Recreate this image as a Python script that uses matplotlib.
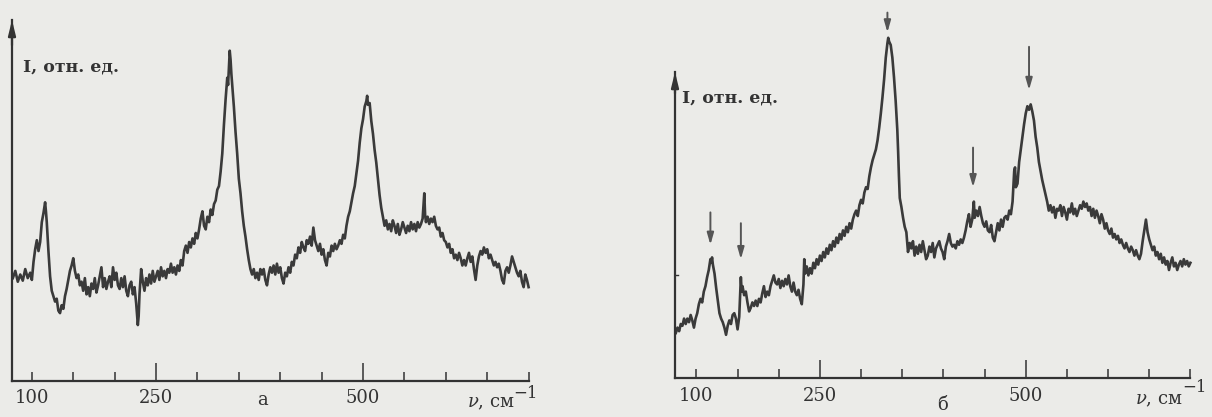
import matplotlib
matplotlib.use('Agg')
import matplotlib.pyplot as plt

# ---------------- data ----------------
nu_a = [77, 80, 83, 86, 89, 92, 95, 98, 100, 102, 104, 106, 108, 110, 112, 114, 116, 117, 118, 120,
        122, 124, 126, 128, 130, 132, 134, 136, 138, 140, 142, 144, 146, 148, 150, 152, 154, 156, 158, 160,
        162, 164, 166, 168, 170, 172, 174, 176, 178, 180, 182, 184, 186, 188, 190, 192, 194, 196, 198, 200,
        202, 204, 206, 208, 210, 212, 214, 216, 218, 220, 222, 224, 226, 228, 229, 230, 232, 234, 236, 238,
        240, 242, 244, 246, 248, 250, 252, 254, 256, 258, 260, 262, 264, 266, 268, 270, 272, 274, 276, 278,
        280, 282, 284, 286, 288, 290, 292, 294, 296, 298, 300, 302, 304, 306, 308, 310, 312, 314, 316, 318,
        320, 322, 324, 326, 328, 330, 332, 334, 336, 337, 338, 339, 340, 341, 342, 343, 344, 346, 348, 350,
        352, 354, 356, 358, 360, 362, 364, 366, 368, 370, 372, 374, 376, 378, 380, 382, 384, 386, 388, 390,
        392, 394, 396, 398, 400, 402, 404, 406, 408, 410, 412, 414, 416, 418, 420, 422, 424, 426, 428, 430,
        432, 434, 436, 438, 440, 442, 444, 446, 448, 450, 452, 454, 456, 458, 460, 462, 464, 466, 468, 470,
        472, 474, 476, 478, 480, 482, 484, 486, 488, 490, 492, 494, 496, 498, 500, 502, 504, 505, 506, 508,
        510, 512, 514, 516, 518, 520, 522, 524, 526, 528, 530, 532, 534, 536, 538, 540, 542, 544, 546, 548,
        550, 552, 554, 556, 558, 560, 562, 564, 566, 568, 570, 572, 574, 575, 576, 578, 580, 582, 584, 586,
        588, 590, 592, 594, 596, 598, 600, 602, 604, 606, 608, 610, 612, 614, 616, 618, 620, 622, 624, 626,
        628, 630, 632, 634, 636, 638, 640, 642, 644, 646, 648, 650, 652, 654, 656, 658, 660, 662, 664, 666,
        668, 670, 672, 674, 676, 678, 680, 682, 684, 686, 688, 690, 692, 694, 696, 698, 700]
I_a = [28.5, 30.5, 27.5, 29.5, 27.8, 31.0, 28.5, 30.0, 28.0, 33.0, 36.5, 39.0, 36.0, 38.5, 44.0, 46.5, 49.5, 47.0, 44.0, 36.0,
       29.0, 25.0, 23.5, 22.0, 22.8, 19.5, 18.8, 21.0, 20.0, 23.5, 25.5, 28.0, 30.5, 32.0, 34.0, 30.5, 28.5, 29.5, 26.5, 27.5,
       25.0, 28.5, 24.0, 26.0, 23.5, 27.0, 25.5, 28.5, 24.5, 26.5, 29.0, 31.5, 26.0, 28.5, 25.5, 27.5, 29.0, 26.0, 31.5, 28.0,
       30.0, 26.5, 25.5, 28.5, 26.0, 29.0, 25.0, 23.5, 26.5, 27.5, 24.0, 26.0, 21.5, 15.5, 18.0, 24.0, 31.0, 27.5, 25.0, 28.5,
       26.5, 29.5, 27.0, 30.5, 27.5, 29.0, 30.5, 28.0, 31.5, 29.0, 30.5, 28.5, 31.0, 30.0, 32.5, 30.0, 31.5, 29.5, 32.0, 30.5,
       33.5, 32.0, 36.0, 37.5, 35.5, 38.5, 37.0, 39.5, 38.0, 41.0, 39.5, 42.0, 45.0, 47.0, 43.0, 42.0, 45.5, 44.0, 47.5, 46.0,
       49.0, 50.0, 53.0, 54.0, 58.0, 63.0, 71.0, 78.0, 84.0, 82.0, 87.0, 91.5, 89.0, 85.0, 82.0, 79.0, 76.0, 69.0, 63.0, 56.0,
       52.0, 47.0, 43.0, 40.0, 36.5, 33.5, 31.0, 29.5, 31.0, 28.5, 30.0, 28.0, 31.0, 29.5, 31.0, 28.0, 26.5, 29.5, 31.5, 30.0,
       32.0, 29.5, 32.5, 30.0, 31.5, 28.5, 27.0, 30.0, 29.0, 31.5, 30.0, 33.0, 32.0, 35.0, 34.0, 37.0, 35.5, 38.5, 37.0, 36.0,
       39.0, 38.0, 40.0, 37.5, 42.5, 39.0, 37.5, 36.0, 38.0, 35.0, 36.5, 33.5, 32.0, 35.5, 34.5, 37.5, 36.0, 38.0, 36.5, 37.5,
       39.0, 38.0, 40.5, 39.5, 43.0, 45.5, 47.0, 49.5, 52.0, 54.0, 57.5, 61.0, 66.0, 70.0, 72.5, 76.0, 77.5, 79.0, 76.5, 77.0,
       72.0, 68.5, 64.0, 60.5, 56.0, 51.5, 48.0, 45.5, 43.0, 44.5, 42.0, 43.5, 41.5, 44.5, 43.0, 41.0, 43.5, 40.5, 42.0, 44.0,
       42.5, 41.0, 43.0, 41.5, 44.0, 42.0, 43.5, 41.5, 44.0, 42.5, 43.5, 45.0, 52.0, 46.0, 44.0, 45.5, 43.5, 45.0, 44.0, 45.5,
       43.0, 42.0, 42.5, 40.0, 41.0, 39.0, 38.5, 37.0, 38.0, 35.5, 36.5, 34.0, 35.0, 33.5, 35.5, 34.0, 32.0, 33.5, 32.0, 34.0,
       35.5, 33.0, 34.5, 31.0, 28.0, 32.0, 34.5, 36.0, 35.0, 37.0, 35.5, 36.5, 34.0, 35.0, 33.5, 32.0, 33.0, 31.5, 32.5, 30.5,
       28.0, 27.0, 30.5, 31.5, 30.0, 32.0, 34.5, 33.0, 31.5, 30.0, 29.0, 30.5, 27.5, 26.0, 29.5, 28.0, 26.0]

nu_b = [75, 77, 79, 81, 83, 85, 87, 89, 91, 93, 95, 97, 99, 101, 103, 105, 107, 109, 111, 113,
        115, 117, 118, 119, 120, 122, 124, 126, 128, 130, 132, 134, 136, 138, 140, 142, 144, 146, 148, 150,
        152, 154, 155, 156, 158, 160, 162, 164, 166, 168, 170, 172, 174, 176, 178, 180, 182, 184, 186, 188,
        190, 192, 194, 196, 198, 200, 202, 204, 206, 208, 210, 212, 214, 216, 218, 220, 222, 224, 226, 228,
        230, 231, 232, 234, 236, 238, 240, 242, 244, 246, 248, 250, 252, 254, 256, 258, 260, 262, 264, 266,
        268, 270, 272, 274, 276, 278, 280, 282, 284, 286, 288, 290, 292, 294, 296, 298, 300, 302, 304, 306,
        308, 310, 312, 314, 316, 318, 320, 322, 324, 326, 328, 330, 332, 333, 334, 336, 338, 340, 342, 344,
        345, 346, 347, 349, 351, 353, 355, 357, 359, 361, 363, 365, 367, 369, 371, 373, 375, 377, 379, 381,
        383, 385, 387, 389, 391, 393, 395, 397, 399, 401, 403, 405, 407, 409, 411, 413, 415, 417, 419, 421,
        423, 425, 427, 429, 431, 433, 435, 437, 438, 440, 442, 444, 446, 448, 450, 452, 454, 456, 458, 460,
        462, 464, 466, 468, 470, 472, 474, 476, 478, 480, 482, 484, 486, 487, 488, 490, 492, 494, 496, 498,
        500, 502, 504, 506, 508, 510, 512, 514, 516, 518, 520, 522, 524, 526, 528, 530, 532, 534, 536, 538,
        540, 542, 544, 546, 548, 550, 552, 554, 556, 558, 560, 562, 564, 566, 568, 570, 572, 574, 576, 578,
        580, 582, 584, 586, 588, 590, 592, 594, 596, 598, 600, 602, 604, 606, 608, 610, 612, 614, 616, 618,
        620, 622, 624, 626, 628, 630, 632, 634, 636, 638, 640, 642, 644, 646, 648, 650, 652, 654, 656, 658,
        660, 662, 664, 666, 668, 670, 672, 674, 676, 678, 680, 682, 684, 686, 688, 690, 692, 694, 696, 698,
        700]
I_b = [12.5, 14.0, 13.0, 15.0, 14.5, 16.5, 15.0, 16.5, 15.5, 17.5, 16.0, 14.0, 16.5, 18.0, 20.5, 22.0, 21.0, 24.0, 25.5, 28.0,
       30.0, 33.0, 32.0, 33.5, 31.5, 29.0, 25.0, 21.5, 18.0, 16.5, 15.5, 14.0, 12.0, 14.5, 16.0, 15.0, 17.5, 18.0, 16.5, 13.5,
       17.0, 28.0, 24.0, 25.5, 23.0, 24.0, 21.0, 18.5, 19.5, 21.0, 20.0, 21.5, 20.0, 22.0, 21.0, 23.5, 25.5, 22.5, 24.0, 23.0,
       25.5, 27.0, 28.5, 26.5, 26.0, 27.5, 25.0, 27.0, 25.5, 27.5, 26.0, 28.5, 25.5, 24.0, 26.5, 24.0, 23.0, 24.5, 22.0, 20.5,
       26.0, 33.0, 29.0, 31.0, 28.5, 30.5, 29.0, 32.0, 30.5, 33.0, 31.5, 34.0, 32.5, 35.0, 33.5, 36.0, 34.5, 37.0, 35.5, 38.0,
       36.5, 39.0, 37.5, 40.0, 38.5, 41.0, 39.5, 42.0, 40.5, 43.0, 41.5, 44.0, 45.5, 46.5, 45.0, 48.0, 49.5, 48.5, 51.5, 53.0,
       52.5, 56.0, 58.5, 60.5, 62.0, 63.5, 66.0, 69.5, 73.5, 78.0, 83.0, 89.0, 93.0, 94.5, 93.5, 92.5, 89.0, 83.5, 77.0, 69.0,
       63.0, 56.0, 50.0, 47.5, 44.5, 42.0, 40.5, 35.0, 37.5, 36.0, 38.0, 34.0, 36.5, 34.5, 37.0, 35.0, 38.0, 35.5, 33.0, 34.0,
       36.5, 35.0, 37.5, 33.5, 36.0, 37.0, 38.0, 36.0, 35.0, 33.0, 36.5, 38.0, 40.0, 37.5, 36.5, 37.0, 36.0, 38.0, 37.0, 38.5,
       37.5, 39.0, 41.0, 43.5, 45.5, 42.0, 44.0, 49.0, 44.5, 46.5, 45.0, 47.5, 45.0, 43.0, 42.0, 43.5, 41.0, 40.5, 42.5, 39.0,
       38.0, 40.5, 43.0, 41.0, 44.0, 42.0, 44.5, 45.0, 44.0, 46.5, 45.5, 49.0, 57.5, 58.5, 53.0, 54.0, 60.0, 63.5, 67.0, 70.5,
       73.5, 75.5, 74.5, 76.0, 74.0, 71.5, 67.0, 64.0, 60.0, 57.5, 55.0, 53.0, 51.0, 49.0, 46.5, 48.0, 46.0, 47.5, 44.5, 47.0,
       46.5, 48.0, 45.0, 47.5, 46.0, 44.0, 47.0, 46.0, 48.5, 45.5, 47.0, 45.0, 46.5, 48.0, 47.0, 49.0, 47.5, 48.5, 46.5, 47.5,
       45.0, 47.0, 44.5, 46.5, 45.0, 43.0, 45.5, 44.0, 41.5, 43.0, 41.0, 40.0, 41.5, 39.0, 40.0, 38.5, 39.5, 37.5, 38.5, 37.0,
       36.0, 37.5, 36.0, 35.0, 36.5, 35.5, 34.0, 35.5, 34.0, 33.0, 34.5, 38.0, 41.0, 44.0, 40.5, 38.5, 37.0, 35.5, 36.5, 34.0,
       35.0, 33.0, 34.5, 32.0, 33.5, 31.5, 32.5, 30.0, 32.0, 33.5, 31.0, 32.0, 30.0, 31.5, 32.5, 31.0, 33.0, 31.5, 32.5, 31.0,
       32.0]

tick_positions = [100, 150, 200, 300, 350, 400, 450, 550, 600, 650, 700]
major_ticks = [250, 500]
label_positions = [100, 250, 500]
tick_labels = ['100', '250', '500']
panel_letters = ['а', 'б']

# arrows marking lines in panel б
arrow_nu_b = [117, 154, 332, 436, 504]
arrow_top_b = [46, 43, 101.5, 64, 92]
arrow_tip_b = [37, 33, 96, 53, 80]

BG = '#ebebe8'
INK = '#333333'
SERIF = ['DejaVu Serif']
plt.rcParams['mathtext.fontset'] = 'dejavuserif'

fig = plt.figure(figsize=(12.12, 4.17), dpi=100, facecolor=BG)

W, H = 1212.0, 417.0
ax_a = fig.add_axes([12 / W, 36 / H, 516.6 / W, 361 / H])
ax_b = fig.add_axes([675 / W, 39 / H, 515.4 / W, 306 / H])

PX = 0.72  # points per pixel at 100 dpi


def style_axes(ax, xlim, ylim, lab_off, letter, letter_x, letter_off, ylab_xy,
               unit_right_px, unit_dy_px, sup_left_px, sup_dy_px):
    ax.set_facecolor('none')
    ax.set_xlim(*xlim)
    ax.set_ylim(*ylim)
    for s in ['top', 'right']:
        ax.spines[s].set_visible(False)
    for s in ['left', 'bottom']:
        ax.spines[s].set_linewidth(1.6)
        ax.spines[s].set_color(INK)
    ax.set_yticks([])
    ax.set_xticks(tick_positions)
    ax.set_xticks(major_ticks, minor=True)
    ax.tick_params(axis='x', which='major', direction='in', length=6.5, width=1.1,
                   color=INK, labelbottom=False)
    ax.tick_params(axis='x', which='minor', direction='in', length=13, width=1.1,
                   color=INK, labelbottom=False)
    # arrow head on the intensity axis
    ax.annotate('', xy=(0, 1.0), xytext=(0, 0.93), xycoords='axes fraction',
                arrowprops=dict(arrowstyle='-|>,head_length=0.9,head_width=0.22',
                                color=INK, lw=1.6, shrinkA=0, shrinkB=0),
                annotation_clip=False)
    for pos, lab in zip(label_positions, tick_labels):
        ax.annotate(lab, xy=(pos, 0), xycoords=('data', 'axes fraction'),
                    xytext=(0, -lab_off), textcoords='offset points',
                    ha='center', va='center', fontsize=13, family=SERIF, color=INK,
                    annotation_clip=False)
    ax.annotate(letter, xy=(letter_x, 0), xycoords=('data', 'axes fraction'),
                xytext=(0, -letter_off), textcoords='offset points',
                ha='center', va='center', fontsize=13, family=SERIF, color=INK,
                annotation_clip=False)
    # axis unit: "ν, см" and a raised "−1"
    ax.annotate(r'$\nu$, см', xy=(1.0, 0), xycoords='axes fraction',
                xytext=(unit_right_px * PX, -unit_dy_px * PX), textcoords='offset points',
                ha='right', va='center', fontsize=13, family=SERIF, color=INK,
                annotation_clip=False)
    ax.annotate('\u22121', xy=(1.0, 0), xycoords='axes fraction',
                xytext=(sup_left_px * PX, -sup_dy_px * PX), textcoords='offset points',
                ha='left', va='center', fontsize=12, family=SERIF, color=INK,
                annotation_clip=False)
    ax.text(ylab_xy[0], ylab_xy[1], 'I, отн. ед.', transform=ax.transAxes,
            ha='left', va='center', fontsize=12.5, fontweight='bold',
            family=SERIF, color=INK)


style_axes(ax_a, (76, 700), (0, 100), 12.2, panel_letters[0], 378, 13.7,
           (0.021, 0.87), -14, 22, -15, 12)
style_axes(ax_b, (74, 700), (0, 85), 13.0, panel_letters[1], 399, 19.4,
           (0.0136, 0.915), -8, 22, -8, 9)

# small mark on the intensity axis of panel б
ax_b.plot([0, 0.006], [28.6, 28.6], color=INK, lw=1.0,
          transform=ax_b.get_yaxis_transform())

ax_a.plot(nu_a, I_a, color='#3a3a3a', lw=1.9, clip_on=False)
ax_b.plot(nu_b, I_b, color='#3a3a3a', lw=1.9, clip_on=False)

for x, yt, yb in zip(arrow_nu_b, arrow_top_b, arrow_tip_b):
    ax_b.annotate('', xy=(x, yb), xytext=(x, yt),
                  arrowprops=dict(arrowstyle='-|>,head_length=0.7,head_width=0.2',
                                  color='#555555', lw=1.4, shrinkA=0, shrinkB=0),
                  annotation_clip=False)

fig.savefig('out.png', dpi=100, facecolor=BG)
